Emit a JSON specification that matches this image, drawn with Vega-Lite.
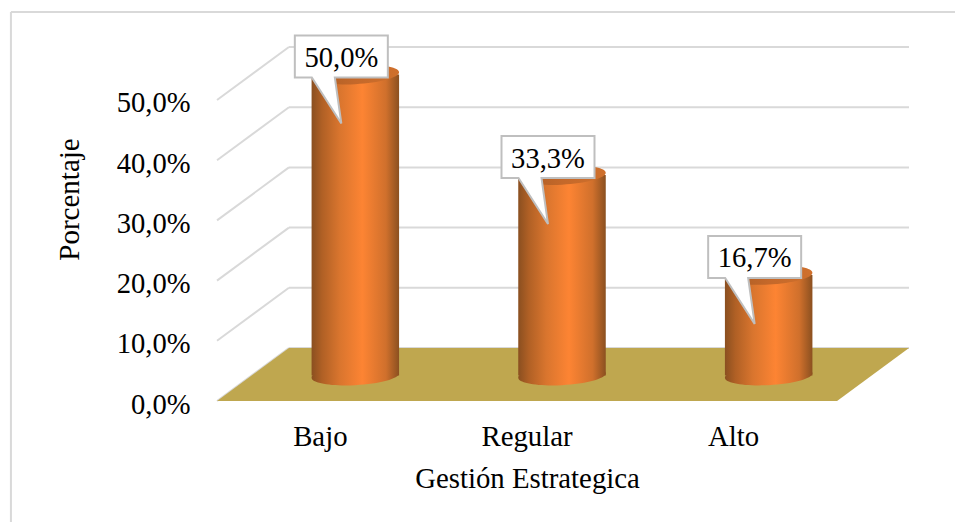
{
"$schema":"https://vega.github.io/schema/vega-lite/v6.json",
"width":955,"height":522,"padding":0,"autosize":{"type":"none"},"background":"white",
"config":{"view":{"stroke":null},"font":"Liberation Serif"},
"datasets":{
"results":[{"cat":"Bajo","value":50.0,"label":"50,0%"},{"cat":"Regular","value":33.3,"label":"33,3%"},{"cat":"Alto","value":16.7,"label":"16,7%"}],
"ticks":[{"tick":0},{"tick":10},{"tick":20},{"tick":30},{"tick":40},{"tick":50}],
"floor":[{"level":0,"from":0,"to":3},{"level":8.8,"from":0.348,"to":3.348}],
"frame":[{"x":-0.997,"x2":3.571,"y":64.6,"y2":64.6},{"x":-0.997,"x2":-0.997,"y":64.6,"y2":-20.1}]
},
"resolve":{"scale":{"x":"independent"}},
"layer":[
{"layer":[
{"data":{"name":"frame"},"mark":{"type":"rule","color":"#d9d9d9","strokeWidth":2},
"encoding":{"x":{"field":"x","type":"quantitative","axis":null,"scale":{"domain":[0,3.348],"range":[217,909],"nice":false,"zero":false}},"x2":{"field":"x2"},
"y":{"field":"y","type":"quantitative","title":"Porcentaje","scale":{"domain":[0,58.8],"range":[401,47],"nice":false,"zero":false},
"axis":{"orient":"left","offset":-217,"domain":false,"ticks":false,"grid":false,"values":[0,10,20,30,40,50],"labelExpr":"replace(format(datum.value,'.1f'),'.',',')+'%'","labelPadding":27,"labelOffset":3,"labelFont":"Liberation Serif","labelFontSize":28.6,"labelColor":"#000000","titleFont":"Liberation Serif","titleFontSize":29,"titleColor":"#000000","titleFontWeight":"normal","titleX":-139,"titleY":199,"titleAngle":-90,"titleBaseline":"alphabetic","titleAlign":"center"}},"y2":{"field":"y2"}}},
{"data":{"name":"ticks"},"mark":{"type":"rule","color":"#d9d9d9","strokeWidth":2,"yOffset":-53,"y2Offset":-53},
"encoding":{"x":{"datum":0.348,"type":"quantitative"},"x2":{"datum":3.348},"y":{"field":"tick","type":"quantitative"},"y2":{"field":"tick"}}},
{"data":{"name":"ticks"},"mark":{"type":"rule","color":"#d9d9d9","strokeWidth":2,"y2Offset":-53},
"encoding":{"x":{"datum":0,"type":"quantitative"},"x2":{"datum":0.348},"y":{"field":"tick","type":"quantitative"},"y2":{"field":"tick"}}},
{"data":{"name":"floor"},"mark":{"type":"area","orient":"horizontal","color":"#bfa74f"},
"encoding":{"x":{"field":"from","type":"quantitative"},"x2":{"field":"to"},"y":{"field":"level","type":"quantitative"}}}
]},
{"data":{"name":"results"},"layer":[
{"mark":{"type":"point","filled":true,"opacity":1,"size":7656,"xOffset":35,"yOffset":-25.5,
"shape":"M-1,0.05A1,0.22,-3,1,0,1,-0.05A1,0.22,-3,1,0,-1,0.05Z",
"fill":{"gradient":"linear","x1":0,"y1":0,"x2":1,"y2":0,"stops":[{"offset":0,"color":"#8a4f20"},{"offset":0.12,"color":"#b06025"},{"offset":0.32,"color":"#d9752e"},{"offset":0.58,"color":"#fd8433"},{"offset":0.85,"color":"#d0702c"},{"offset":1,"color":"#8b5020"}]}},
"encoding":{"x":{"field":"cat","type":"nominal","sort":null,"title":"Gestión Estrategica",
"scale":{"domain":["Bajo","Regular","Alto"],"range":[217,837],"paddingInner":0,"paddingOuter":0},
"axis":{"orient":"bottom","offset":-121,"domain":false,"ticks":false,"labelAngle":0,"labelPadding":21,"labelFont":"Liberation Serif","labelFontSize":28.8,"labelColor":"#000000","labelFontWeight":"normal","titleFont":"Liberation Serif","titleFontSize":28.8,"titleColor":"#000000","titleFontWeight":"normal","titleX":527,"titleY":86,"titleBaseline":"alphabetic","grid":false}},
"y":{"datum":0,"type":"quantitative"}}},
{"mark":{"type":"bar","width":87.5,"xOffset":35,"yOffset":-25.5,"y2Offset":-25.5,
"fill":{"gradient":"linear","x1":0,"y1":0,"x2":1,"y2":0,"stops":[{"offset":0,"color":"#8a4f20"},{"offset":0.12,"color":"#b06025"},{"offset":0.32,"color":"#d9752e"},{"offset":0.58,"color":"#fd8433"},{"offset":0.85,"color":"#d0702c"},{"offset":1,"color":"#8b5020"}]}},
"encoding":{"x":{"field":"cat","type":"nominal","sort":null},"y":{"field":"value","type":"quantitative"},"y2":{"datum":0}}},
{"mark":{"type":"point","filled":true,"opacity":1,"size":7656,"xOffset":35,"yOffset":-25.5,
"shape":"M-1,0.05A1,0.22,-3,1,0,1,-0.05A1,0.22,-3,1,0,-1,0.05Z",
"fill":{"gradient":"linear","x1":0,"y1":0,"x2":1,"y2":0,"stops":[{"offset":0,"color":"#a85c24"},{"offset":0.5,"color":"#c4682a"},{"offset":1,"color":"#cf702c"}]}},
"encoding":{"x":{"field":"cat","type":"nominal","sort":null},"y":{"field":"value","type":"quantitative"}}},
{"mark":{"type":"point","filled":true,"opacity":1,"size":10000,"xOffset":21,"yOffset":-43.5,"fill":"#ffffff","stroke":"#bfbfbf","strokeWidth":2,
"shape":"M-0.93,-0.42H0.93V0.42H-0.13L0,1.34L-0.59,0.42H-0.93Z"},
"encoding":{"x":{"field":"cat","type":"nominal","sort":null},"y":{"field":"value","type":"quantitative"}}},
{"mark":{"type":"text","font":"Liberation Serif","fontSize":28.6,"color":"#000000","align":"center","baseline":"middle","xOffset":21,"yOffset":-42},
"encoding":{"x":{"field":"cat","type":"nominal","sort":null},"y":{"field":"value","type":"quantitative"},"text":{"field":"label"}}}
]}
]
}
